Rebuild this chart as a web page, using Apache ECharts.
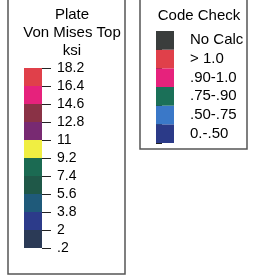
<!DOCTYPE html>
<html>
<head>
<meta charset="utf-8">
<script src="https://cdn.jsdelivr.net/npm/echarts@6/dist/echarts.min.js"></script>
<style>html,body{margin:0;padding:0;background:#fff}#c{width:264px;height:278px}</style>
</head>
<body>
<div id="c"></div>
<script>
// Left legend: Plate Von Mises Top (ksi), bottom to top
const vmTickLabels = ['.2', '2', '3.8', '5.6', '7.4', '9.2', '11', '12.8', '14.6', '16.4', '18.2'];
const vmBandColors = ['#2b3a56', '#2c3b8a', '#1f5a7a', '#1f5848', '#1b6a52', '#f0ee42', '#782a72', '#8a3246', '#e6227c', '#e0404a'];
// Right legend: Code Check, bottom to top
const ccCategories = ['0.-.50', '.50-.75', '.75-.90', '.90-1.0', '> 1.0', 'No Calc'];
const ccColors = ['#2b3a88', '#3a78c8', '#1b7058', '#e6227c', '#e0404a', '#3a3d3c'];

const FONT = '"Liberation Sans", Arial, sans-serif';
const chart = echarts.init(document.getElementById('c'), null, {renderer: 'canvas'});

const vmSeries = vmBandColors.map((col, i) => ({
  type: 'bar', stack: 'vm', xAxisIndex: 0, yAxisIndex: 0,
  barWidth: '100%', data: [1], silent: true,
  itemStyle: {color: col}
}));

const titleStyle = {fontFamily: FONT, fontSize: 15, fontWeight: 'normal', color: '#000'};

chart.setOption({
  animation: false,
  title: [
    {text: 'Plate', left: 67, top: 2, textAlign: 'center', textStyle: titleStyle},
    {text: 'Von Mises Top', left: 67, top: 20, textAlign: 'center', textStyle: titleStyle},
    {text: 'ksi', left: 67, top: 38, textAlign: 'center', textStyle: titleStyle},
    {text: 'Code Check', left: 194, top: 3, textAlign: 'center', textStyle: titleStyle}
  ],
  graphic: [
    {type: 'rect', shape: {x: 8, y: -5, width: 117, height: 279},
     style: {fill: 'none', stroke: '#555', lineWidth: 1.5}, z: 0},
    {type: 'rect', shape: {x: 140, y: -5, width: 107, height: 154},
     style: {fill: 'none', stroke: '#555', lineWidth: 1.5}, z: 0}
  ],
  grid: [
    {left: 24, top: 68, width: 18, height: 180},
    {left: 156, top: 31, width: 18, height: 112}
  ],
  xAxis: [
    {gridIndex: 0, type: 'category', data: ['v'], show: false},
    {gridIndex: 1, type: 'value', min: 0, max: 1, show: false}
  ],
  yAxis: [
    {gridIndex: 0, type: 'value', min: 0, max: 10, interval: 1, position: 'right',
     axisLine: {show: false}, splitLine: {show: false},
     axisTick: {show: true, length: 9, lineStyle: {color: '#222', width: 1}},
     axisLabel: {margin: 15, fontFamily: FONT, fontSize: 14, color: '#000',
                 formatter: v => vmTickLabels[Math.round(v)]}},
    {gridIndex: 1, type: 'category', data: ccCategories, position: 'right',
     axisLine: {show: false}, splitLine: {show: false},
     axisTick: {show: true, length: 6, lineStyle: {color: '#222', width: 1}},
     axisLabel: {interval: 0, margin: 16, fontFamily: FONT, fontSize: 15, color: '#000'}}
  ],
  series: vmSeries.concat([
    {type: 'bar', xAxisIndex: 1, yAxisIndex: 1, barWidth: '100%', silent: true,
     data: ccColors.map(col => ({value: 1, itemStyle: {color: col}}))}
  ])
});
</script>
</body>
</html>
